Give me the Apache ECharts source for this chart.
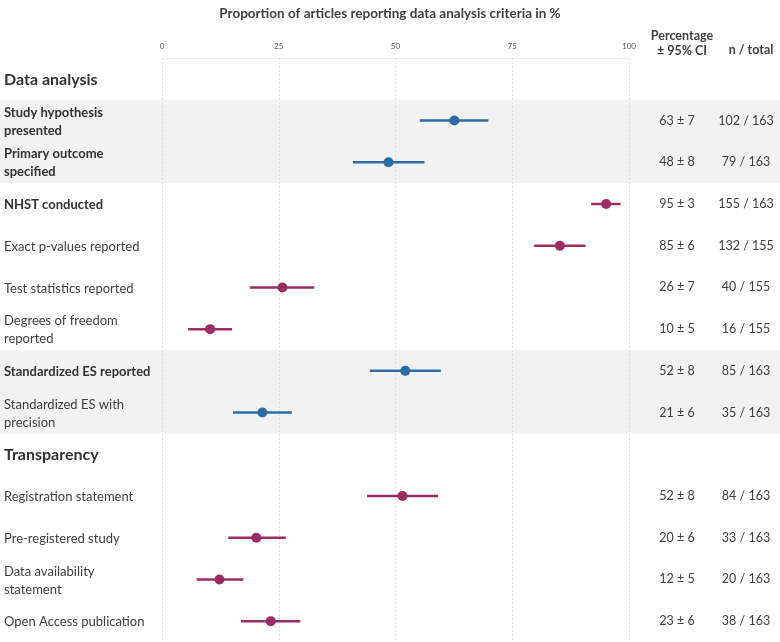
<!DOCTYPE html>
<html>
<head>
<meta charset="utf-8" />
<title>Data analysis criteria</title>
<script src="https://cdn.jsdelivr.net/npm/echarts@6/dist/echarts.min.js"></script>
<style>
  html, body { margin: 0; padding: 0; background: #fff; }
  #main { width: 780px; height: 642px; }
</style>
</head>
<body>
<div id="main"></div>
<script>
// rows, top to bottom
var rowLabels = [
  'Data analysis',
  'Study hypothesis\npresented',
  'Primary outcome\nspecified',
  'NHST conducted',
  'Exact p-values reported',
  'Test statistics reported',
  'Degrees of freedom\nreported',
  'Standardized ES reported',
  'Standardized ES with\nprecision',
  'Transparency',
  'Registration statement',
  'Pre-registered study',
  'Data availability\nstatement',
  'Open Access publication'
];
// head = section title, bold / plain = row label weight
var rowKind = ['head', 'bold', 'bold', 'bold', 'plain', 'plain', 'plain', 'bold', 'plain',
  'head', 'plain', 'plain', 'plain', 'plain'];
// rows on grey background (drawn in blue)
var shadedRows = [1, 2, 7, 8];

var mean  = [null, 62.6, 48.5, 95.1, 85.2, 25.8, 10.3, 52.1, 21.5, null, 51.5, 20.2, 12.3, 23.3];
var lower = [null, 55.2, 40.9, 91.9, 79.7, 18.8, 5.6, 44.5, 15.2, null, 43.9, 14.2, 7.4, 16.9];
var upper = [null, 69.9, 56.2, 98.2, 90.7, 32.6, 15.0, 59.7, 27.8, null, 59.1, 26.5, 17.4, 29.6];
var pctText = ['', '63 ± 7', '48 ± 8', '95 ± 3', '85 ± 6', '26 ± 7', '10 ± 5', '52 ± 8', '21 ± 6',
  '', '52 ± 8', '20 ± 6', '12 ± 5', '23 ± 6'];
var nText = ['', '102 / 163', '79 / 163', '155 / 163', '132 / 155', '40 / 155', '16 / 155', '85 / 163', '35 / 163',
  '', '84 / 163', '33 / 163', '20 / 163', '38 / 163'];
var xTicks = [0, 25, 50, 75, 100];

var blue = '#2f6aa5';
var magenta = '#9b2c62';
var font = 'Lato';

var barData = [];
mean.forEach(function (m, i) {
  if (m == null) return;
  barData.push([lower[i], upper[i], m, i, shadedRows.indexOf(i) >= 0 ? 1 : 0]);
});
var bandData = shadedRows.map(function (r) { return [0, r]; });

var mycharts = echarts.init(document.getElementById('main'));

var option = {
  textStyle: { fontFamily: font },
  animation: false,
  title: [
    {
      text: 'Proportion of articles reporting data analysis criteria in %',
      left: 'center', top: 2,
      textStyle: { fontFamily: font, fontSize: 13.5, fontWeight: 'bold', color: '#404040' }
    },
    {
      text: 'Percentage\n± 95% CI',
      left: 677, top: 23, textAlign: 'center',
      textStyle: { fontFamily: font, fontSize: 12.5, fontWeight: 'bold', color: '#404040', lineHeight: 15, align: 'center' }
    },
    {
      text: 'n / total',
      left: 746, top: 38, textAlign: 'center',
      textStyle: { fontFamily: font, fontSize: 12.5, fontWeight: 'bold', color: '#404040' }
    }
  ],
  grid: { left: 162, right: 151, top: 58, bottom: 0, containLabel: false },
  xAxis: {
    type: 'value', position: 'top', min: 0, max: 100, interval: 25, z: 1,
    axisLine: { show: true, lineStyle: { color: '#ebebeb', width: 1 } },
    axisTick: { show: false },
    axisLabel: {
      fontSize: 8, color: '#555', margin: 8,
      formatter: function (v) { return xTicks.indexOf(v) >= 0 ? String(v) : ''; }
    },
    splitLine: { show: true, lineStyle: { color: '#e0e0e0', type: [2, 2], width: 1 } }
  },
  yAxis: [
    {
      type: 'category', data: rowLabels, inverse: true,
      axisLine: { show: false }, axisTick: { show: false }, splitLine: { show: false },
      axisLabel: {
        align: 'left', margin: 158, interval: 0,
        formatter: function (v, i) { return '{' + rowKind[i] + '|' + v + '}'; },
        rich: {
          head: { fontFamily: font, fontSize: 16, fontWeight: 'bold', color: '#333', lineHeight: 18, padding: [2, 0, 0, 0] },
          bold: { fontFamily: font, fontSize: 13, fontWeight: 'bold', color: '#333', lineHeight: 18, padding: [2, 0, 0, 0] },
          plain: { fontFamily: font, fontSize: 13, color: '#404040', lineHeight: 18, padding: [2, 0, 0, 0] }
        }
      }
    },
    {
      type: 'category', data: pctText, inverse: true, position: 'right',
      axisLine: { show: false }, axisTick: { show: false }, splitLine: { show: false },
      axisLabel: { align: 'center', margin: 48, interval: 0, fontFamily: font, fontSize: 12.5, color: '#404040' }
    },
    {
      type: 'category', data: nText, inverse: true, position: 'right',
      axisLine: { show: false }, axisTick: { show: false }, splitLine: { show: false },
      axisLabel: { align: 'center', margin: 117, interval: 0, fontFamily: font, fontSize: 12.5, color: '#404040' }
    }
  ],
  series: [
    {
      name: 'band', type: 'custom', z: 0, clip: false, silent: true,
      data: bandData,
      renderItem: function (params, api) {
        var c = api.coord([0, api.value(1)]);
        var h = api.size([0, 1])[1];
        return {
          type: 'rect',
          shape: { x: 0, y: c[1] - h / 2, width: api.getWidth(), height: h },
          style: { fill: '#f2f2f2' }
        };
      }
    },
    {
      name: 'proportion', type: 'custom', z: 3, clip: false,
      data: barData,
      renderItem: function (params, api) {
        var row = api.value(3);
        var col = api.value(4) ? blue : magenta;
        var a = api.coord([api.value(0), row]);
        var b = api.coord([api.value(1), row]);
        var m = api.coord([api.value(2), row]);
        return {
          type: 'group',
          children: [
            { type: 'line', shape: { x1: a[0], y1: a[1], x2: b[0], y2: b[1] }, style: { stroke: col, lineWidth: 2.5 } },
            { type: 'circle', shape: { cx: m[0], cy: m[1], r: 5 }, style: { fill: col } }
          ]
        };
      }
    }
  ]
};

mycharts.setOption(option);
</script>
</body>
</html>
